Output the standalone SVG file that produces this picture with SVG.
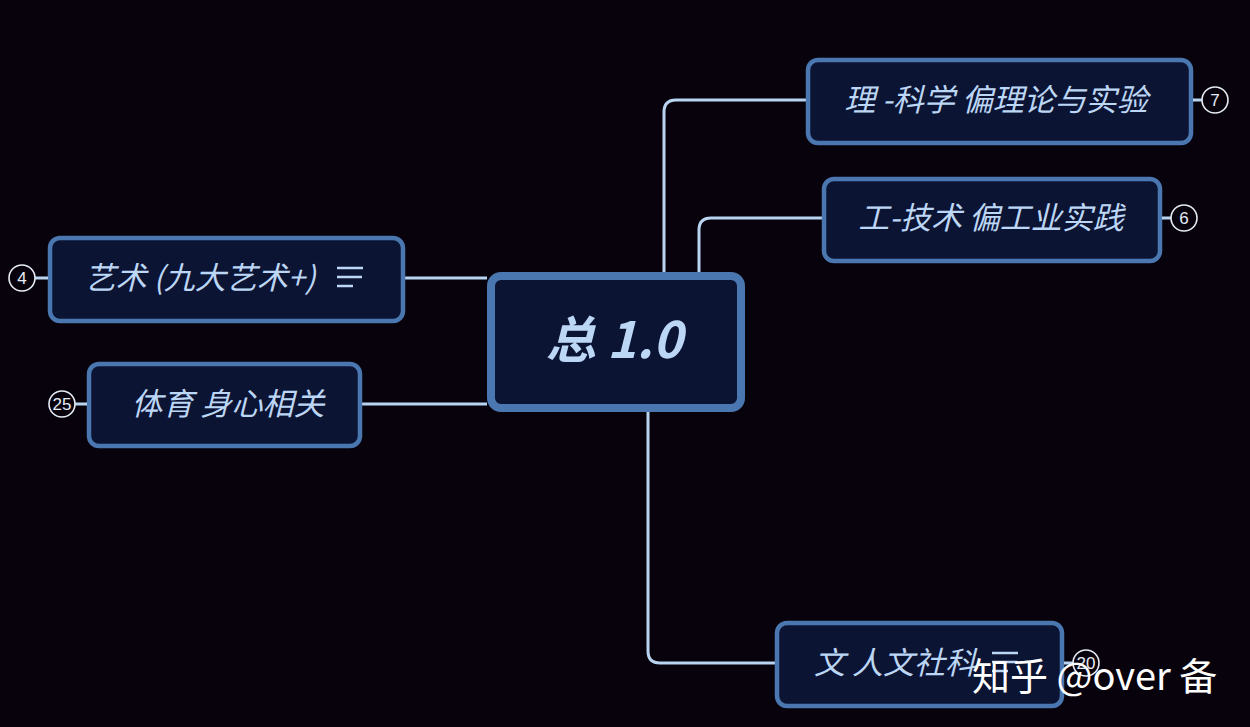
<svg xmlns="http://www.w3.org/2000/svg" width="1250" height="727" viewBox="0 0 1250 727">
<style>
.node{fill:#0c1433;stroke:#4a77b0;stroke-width:4.5}
.root{fill:#0c1433;stroke:#4a77b0;stroke-width:8}
.lbl{font-family:"Noto Sans CJK SC","Noto Sans",sans-serif;font-style:italic;fill:#bcd6f5;font-size:31px;text-anchor:middle}
.conn{fill:none;stroke:#b8d4f0;stroke-width:3}
.badge circle{fill:none;stroke:#e6ecf5;stroke-width:1.6}
.badge text{font-family:"Liberation Sans",Arial,sans-serif;fill:#e6ecf5;font-size:17px;text-anchor:middle}
.badge line{stroke:#b8d4f0;stroke-width:3}
.icon{stroke:#bcd6f5;stroke-width:2.5}
</style>
<rect width="1250" height="727" fill="#08020d"/>
<g id="connectors">
<path class="conn" d="M664 272 V112 Q664 100 676 100 H806"/>
<path class="conn" d="M699 272 V230 Q699 218 711 218 H822"/>
<path class="conn" d="M648 412 V651 Q648 663 660 663 H775"/>
<path class="conn" d="M405 278 H487"/>
<path class="conn" d="M362 404 H487"/>
</g>
<g id="root">
<rect class="root" x="491" y="276" width="250" height="132" rx="10"/>
<text x="614" y="358" font-family="'Noto Sans CJK SC','Noto Sans',sans-serif" font-style="italic" font-weight="600" font-size="50" fill="#bcd6f5" text-anchor="middle">总 1.0</text>
</g>
<g id="node-li">
<rect class="node" x="808" y="60" width="383" height="83" rx="10"/>
<text class="lbl" x="996" y="111">理 -科学 偏理论与实验</text>
<g class="badge"><line x1="1193" y1="100" x2="1202" y2="100"/><circle cx="1215" cy="100" r="13"/><text x="1215" y="106">7</text></g>
</g>
<g id="node-gong">
<rect class="node" x="824" y="179" width="336" height="82" rx="10"/>
<text class="lbl" x="991" y="229">工-技术 偏工业实践</text>
<g class="badge"><line x1="1162" y1="218" x2="1171" y2="218"/><circle cx="1184" cy="218" r="13"/><text x="1184" y="224">6</text></g>
</g>
<g id="node-yishu">
<rect class="node" x="50" y="238" width="353" height="83" rx="10"/>
<text class="lbl" x="200" y="289">艺术 (九大艺术+)</text>
<line class="icon" x1="337" y1="268" x2="363" y2="268"/>
<line class="icon" x1="337" y1="277" x2="362" y2="277"/>
<line class="icon" x1="337" y1="286" x2="353" y2="286"/>
<g class="badge"><line x1="35" y1="278" x2="48" y2="278"/><circle cx="22" cy="278" r="13"/><text x="22" y="284">4</text></g>
</g>
<g id="node-tiyu">
<rect class="node" x="89" y="364" width="271" height="82" rx="10"/>
<text class="lbl" x="228" y="415">体育 身心相关</text>
<g class="badge"><line x1="75" y1="404" x2="87" y2="404"/><circle cx="62" cy="404" r="13"/><text x="62" y="410">25</text></g>
</g>
<g id="node-wen">
<rect class="node" x="777" y="623" width="285" height="83" rx="10"/>
<text class="lbl" x="895" y="674">文 人文社科</text>
<line class="icon" x1="992" y1="653" x2="1018" y2="653"/>
<line class="icon" x1="992" y1="662" x2="1017" y2="662"/>
<line class="icon" x1="992" y1="671" x2="1008" y2="671"/>
<g class="badge"><line x1="1064" y1="663" x2="1073" y2="663"/><circle cx="1086" cy="663" r="13"/><text x="1086" y="669">20</text></g>
</g>
<text x="972" y="690" font-family="'Noto Sans CJK SC','Noto Sans',sans-serif" font-size="38" fill="#ffffff">知乎 @over 备</text>
</svg>
